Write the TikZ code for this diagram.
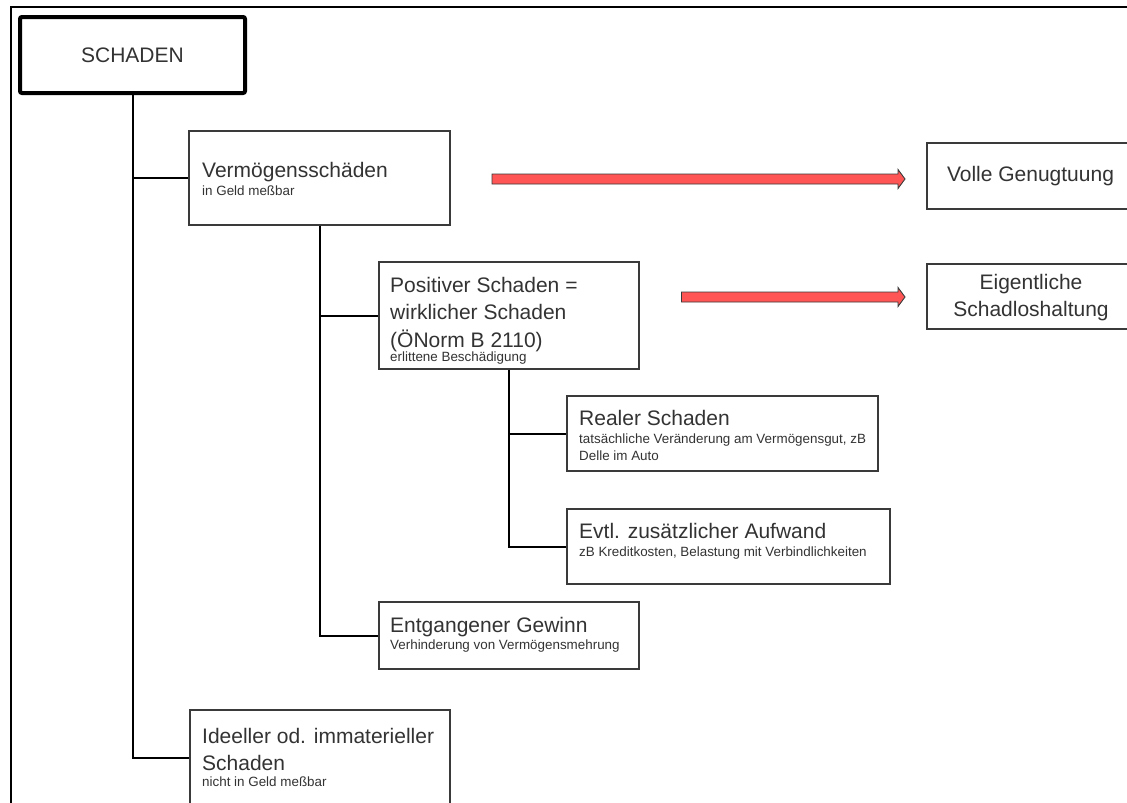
\documentclass[tikz,border=0pt]{standalone}
\usepackage{fontspec}
\setmainfont{Liberation Sans}
\definecolor{txt}{HTML}{333333}
\definecolor{edge}{HTML}{3A3A3A}
\definecolor{arrowred}{HTML}{FF5555}
\tikzset{
  box/.style={draw=edge, line width=1.1pt, fill=white, inner sep=0pt, rectangle},
  bigtxt/.style={font=\fontsize{21}{27.5}\selectfont, text=txt, anchor=base west, inner sep=0pt},
  smalltxt/.style={font=\fontsize{13.4}{17.5}\selectfont, text=txt, anchor=base west, inner sep=0pt},
  centertxt/.style={font=\fontsize{21}{27}\selectfont, text=txt, align=center, inner sep=0pt},
  link/.style={line width=2pt, black},
  redarrow/.style={draw=edge, line width=0.9pt, fill=arrowred, line join=miter}
}
% block arrow from #1 (tail, on the axis) to #2 (tip, on the axis)
\newcommand\blockarrow[2]{%
  \draw[redarrow] ($#1+(0,-5)$) -- ($#2+(-7,-5)$) -- ($#2+(-7,-9.5)$) -- #2
    -- ($#2+(-7,9.5)$) -- ($#2+(-7,5)$) -- ($#1+(0,5)$) -- cycle;}
\usetikzlibrary{calc}
\begin{document}
\begin{tikzpicture}[x=1pt, y=-1pt]
\useasboundingbox (0,0) rectangle (1127,803);

% outer frame (top and left edges)
\draw[line width=2pt] (11,810) -- (11,7) -- (1135,7);

% root
\node[draw=black, line width=4pt, rounded corners=2pt, fill=white,
      minimum width=225pt, minimum height=76pt, inner sep=0pt]
      (schaden) at (132.5,55) {};
\node[centertxt] (schadenT) at (132.5,55) {SCHADEN};

% Vermögensschäden
\node[box, minimum width=261pt, minimum height=94pt] (verm) at (319.5,178) {};
\node[bigtxt] (vermT) at (202,177) {Vermögensschäden};
\node[smalltxt] (vermS) at (202,195) {in Geld meßbar};

% Positiver Schaden
\node[box, minimum width=260pt, minimum height=107pt] (pos) at (509,315.5) {};
\node[bigtxt] (posT1) at (390,292) {Positiver Schaden =};
\node[bigtxt] (posT2) at (390,319.5) {wirklicher Schaden};
\node[bigtxt] (posT3) at (390,347) {(ÖNorm B 2110)};
\node[smalltxt] (posS) at (390,361.5) {erlittene Beschädigung};

% Realer Schaden
\node[box, minimum width=311pt, minimum height=75pt] (real) at (722.5,433.5) {};
\node[bigtxt] (realT) at (579,425) {Realer Schaden};
\node[smalltxt] (realS1) at (579,443) {tatsächliche Veränderung am Vermögensgut, zB};
\node[smalltxt] (realS2) at (579,460.5) {Delle im Auto};

% Evtl. zusätzlicher Aufwand
\node[box, minimum width=323pt, minimum height=75pt] (evtl) at (728.5,546.5) {};
\node[bigtxt] (evtlT) at (579,538) {Evtl. zusätzlicher Aufwand};
\node[smalltxt] (evtlS) at (579,556) {zB Kreditkosten, Belastung mit Verbindlichkeiten};

% Entgangener Gewinn
\node[box, minimum width=260pt, minimum height=67pt] (ent) at (509,635.5) {};
\node[bigtxt] (entT) at (390,632) {Entgangener Gewinn};
\node[smalltxt] (entS) at (390,649.5) {Verhinderung von Vermögensmehrung};

% Ideeller Schaden
\node[box, minimum width=260pt, minimum height=96pt] (ideel) at (320,758) {};
\node[bigtxt] (ideelT1) at (202,743) {Ideeller od. immaterieller};
\node[bigtxt] (ideelT2) at (202,770) {Schaden};
\node[smalltxt] (ideelS) at (202,786.5) {nicht in Geld meßbar};

% consequences on the right
\node[box, minimum width=207pt, minimum height=66pt] (voll) at (1030.5,176) {};
\node[centertxt] (vollT) at (1030.5,176) {Volle Genugtuung};
\node[box, minimum width=207pt, minimum height=65pt] (eig) at (1030.5,296.5) {};
\node[centertxt] (eigT) at (1031,298) {Eigentliche\\Schadloshaltung};

% red block arrows
\coordinate (a1tail) at (492,179);
\coordinate (a1tip)  at (905,179);
\coordinate (a2tail) at (681.5,297);
\coordinate (a2tip)  at (905,297);
\blockarrow{(a1tail)}{(a1tip)}
\blockarrow{(a2tail)}{(a2tip)}

% tree connectors
\draw[link] (schaden.south) |- (verm.west);
\draw[link] (schaden.south) |- (ideel.west);
\draw[link] (verm.south) |- (pos.west);
\draw[link] (verm.south) |- (ent.west);
\draw[link] (pos.south) |- (real.west);
\draw[link] (pos.south) |- (evtl.west);
\end{tikzpicture}
\end{document}
